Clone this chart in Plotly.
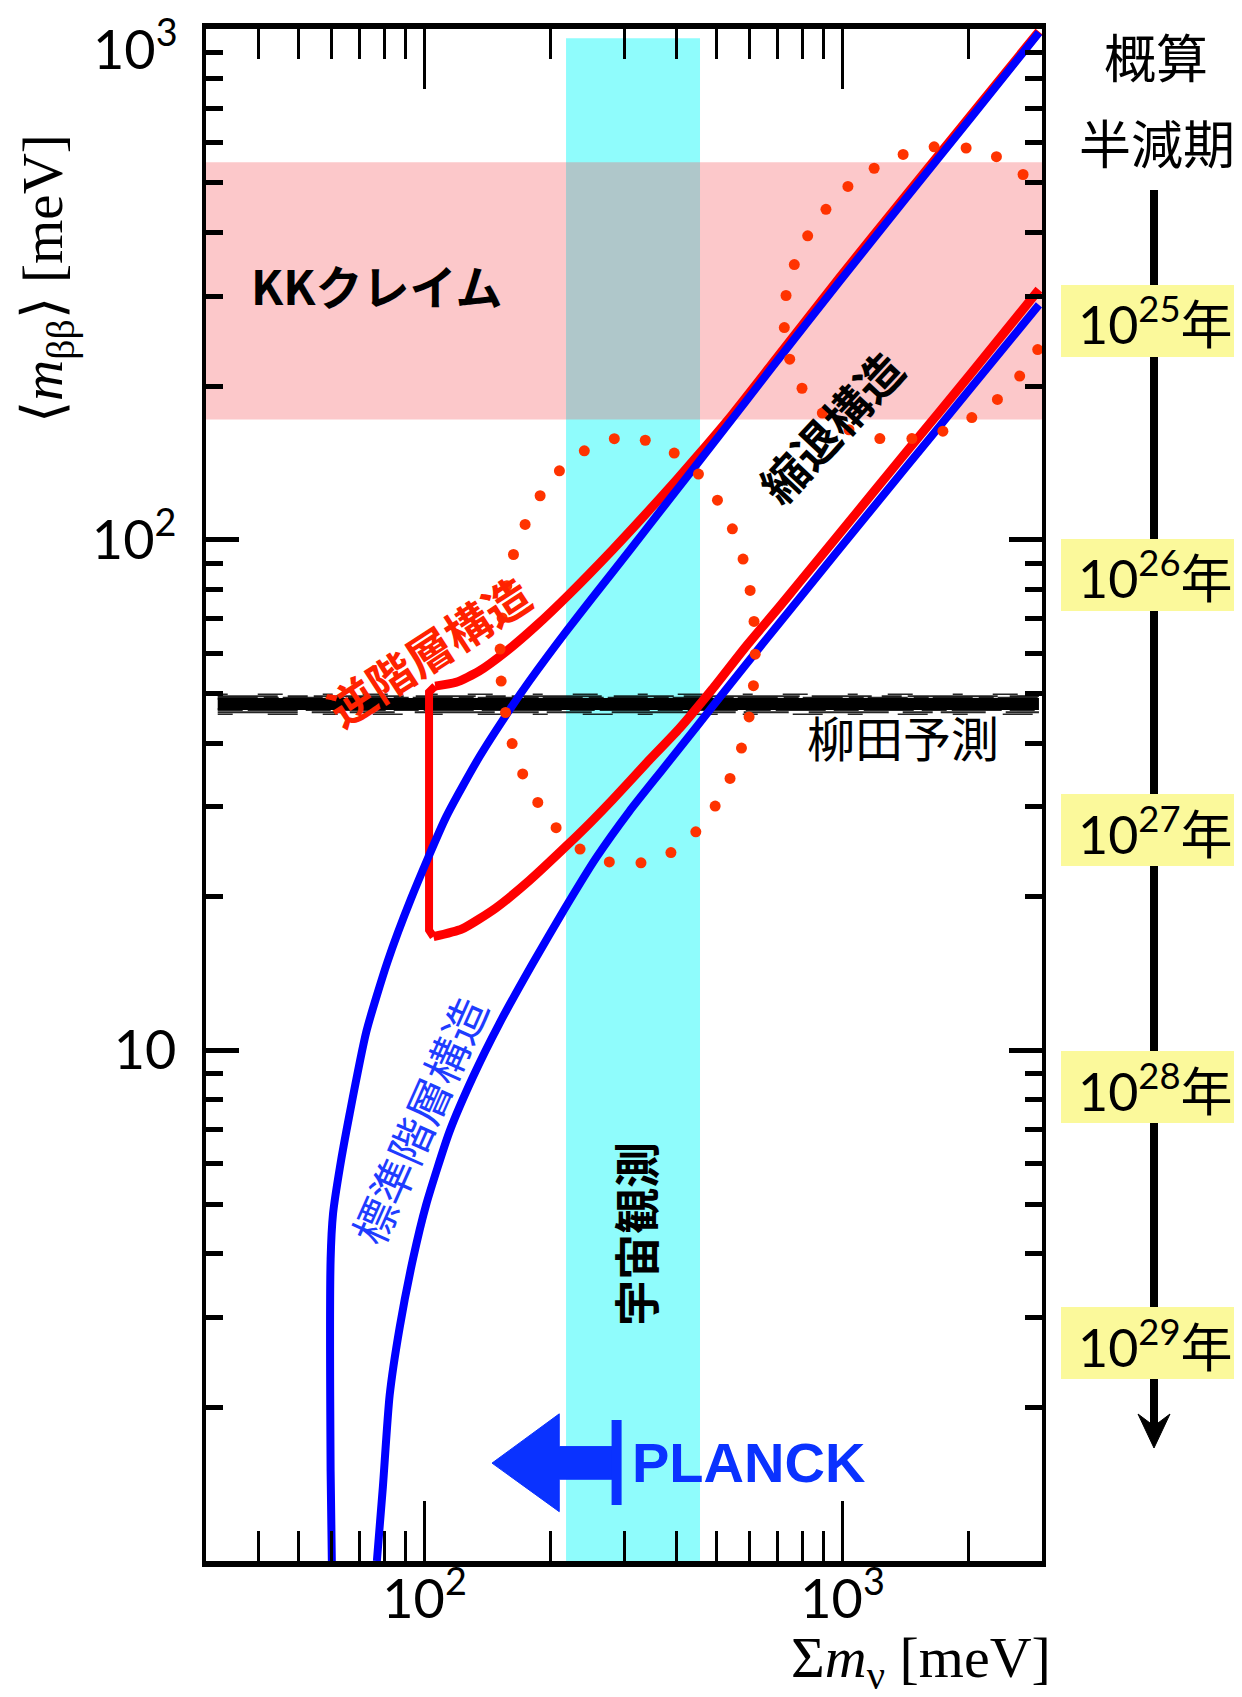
import math
import plotly.graph_objects as go

# ---------------- data (meV) ----------------
# Normal hierarchy region: left/upper boundary and lower boundary
nh_upper_sum = [60.0, 59.6, 59.6, 60.4, 62.7, 66.2, 72.6, 81.5, 93.0, 112.7, 135.3, 159.6,
                178.2, 218, 257, 309, 371, 453, 587, 679, 980, 1415, 2041, 2950]
nh_upper_mbb = [1.0, 1.5, 3.9, 4.79, 5.89, 7.52, 10.9, 14.9, 19.9, 28.7, 37.6, 46.4,
                52.9, 66.1, 78.6, 95.2, 115.4, 142.2, 186.7, 218, 319.5, 465.5, 675.6, 985]

nh_lower_sum = [76.9, 79.5, 82.5, 87.2, 93.8, 100.9, 114.7, 130.5, 151.1, 181.4, 216, 257,
                309, 371, 446, 535, 643, 787, 980, 1415, 2041, 2950]
nh_lower_mbb = [1.0, 1.40, 2.11, 2.87, 3.90, 4.99, 6.93, 8.87, 11.3, 14.8, 18.9, 23.8,
                29.4, 35.5, 42.9, 51.8, 62.5, 76.7, 95.7, 138.4, 199.6, 288.5]

# Inverted hierarchy region: lower branch (right->left), vertical edge, upper branch
ih_lower_sum = [2950, 2041, 1415, 980, 787, 705, 587, 488, 407, 339, 282, 250, 218, 178, 148, 123, 105]
ih_lower_mbb = [309, 213, 148, 102.5, 82.4, 73.8, 61.8, 51.0, 42.7, 36.5, 31.0, 28.0, 25.1, 21.5, 19.0, 17.3, 16.7]
ih_edge_sum = [105, 102.5, 102.5, 106]
ih_edge_mbb = [16.7, 17.2, 50.3, 51.7]
ih_upper_sum = [106, 119, 135, 157, 185, 222, 282, 330, 400, 453, 545, 680, 980, 1415, 2041, 2950]
ih_upper_mbb = [51.7, 52.6, 55.3, 60.5, 67.9, 78.3, 95.7, 109.9, 130.9, 147.1, 176.0, 221.6, 325, 472, 683, 990]

# Dotted contours
dots1_sum = [284.4, 337.3, 395.6, 452.1, 502, 545, 578, 601, 614, 618, 612, 597.6, 573, 538,
             495.7, 445.6, 388.5, 329.4, 276.7, 235.5, 206.4, 186.6, 171.7, 162.0, 156.2, 152.5,
             151.6, 153.3, 157.3, 163.2, 174.0, 189.0, 210.2, 241.1]
dots1_mbb = [157.8, 156.7, 147.9, 134.5, 119.6, 105.1, 91.7, 79.6, 69.2, 59.7, 51.8, 45.0, 39.1, 34.1,
             30.1, 26.8, 24.4, 23.3, 23.4, 24.8, 27.3, 30.6, 34.8, 39.9, 45.9, 52.9,
             61.1, 70.3, 81.3, 93.6, 107.2, 122.0, 136.5, 149.4]
dots2_sum = [747.4, 725.5, 732.4, 766.6, 825.2, 912.6, 1030, 1190, 1396, 1656, 1975, 2334, 2703, 3028,
             3217, 3276, 3253, 3152, 2930, 2653, 2347, 2038, 1738, 1465, 1228, 1036, 894.4, 799.8]
dots2_mbb = [225.9, 260.5, 301.0, 346.0, 394.0, 444.0, 492.3, 534.3, 568.6, 588.5, 585.4, 562.8, 519.4, 465.0,
             408.2, 355.9, 308.7, 268.5, 235.9, 209.3, 188.4, 173.6, 163.2, 157.9, 157.9, 164.3, 177.1, 198.1]

# Bands
kk_claim_mbb = [172, 549]
cosmo_sum = [218, 456]
cosmo_top_mbb = 960
yanagida_mbb = 47.7
yanagida_sum = [32, 2950]

# Planck arrow (decoration)
planck_bar_sum = 288
planck_tip_sum, planck_head_sum, planck_shaft_end = 145, 210, 286
planck_mid, planck_head_lo, planck_head_hi = 1.555, 1.249, 1.942
planck_shaft_lo, planck_shaft_hi = 1.446, 1.675
planck_bar_lo, planck_bar_hi = 1.288, 1.889

# Axis ticks
x_major = [100, 1000]
x_major_text = ["10<sup>2</sup>", "10<sup>3</sup>"]
x_minor = [40, 50, 60, 70, 80, 90, 200, 300, 400, 500, 600, 700, 800, 900, 2000]
y_major = [10, 100, 1000]
y_major_text = ["10", "10<sup>2</sup>", ""]          # top label drawn separately (sits at the edge)
y_top_label = "10<sup>3</sup>"
y_minor = [2, 3, 4, 5, 6, 7, 8, 9, 20, 30, 40, 50, 60, 70, 80, 90, 200, 300, 400, 500, 600, 700, 800, 900]

halflife_exp = [25, 26, 27, 28, 29]

# ---------------- layout geometry (page pixels) ----------------
PAGE_W, PAGE_H = 1242, 1697
BODY = 8                      # default body margin of the html page
W, H = PAGE_W - BODY, PAGE_H - BODY
PL, PR, PT, PB = 206, 1042, 29, 1561


def px(x):
    return (x - PL) / (PR - PL)


def py(y):
    return (PB - y) / (PB - PT)


CJK = "Noto Sans CJK JP"
NUM = "Lato, Noto Sans CJK JP"
RED = "#FF0000"
DOT = "#FF3300"
BLUE = "#0000FF"

fig = go.Figure()

# Yanagida brush band (main stroke plus ragged streaks)
fig.add_trace(go.Scatter(x=yanagida_sum, y=[yanagida_mbb] * 2, mode="lines",
                         line=dict(color="black", width=12), hoverinfo="skip"))
streaks = [(1.036, 2, "60px,10px,20px,6px,90px,12px"), (1.026, 3, "40px,6px,15px,4px"),
           (0.975, 3, "25px,5px,50px,8px"), (0.963, 2, "80px,14px,30px,8px,45px,20px"),
           (1.045, 1.5, "10px,30px,25px,40px"), (0.955, 1.5, "15px,35px,30px,25px")]
for fac, wid, dash in streaks:
    fig.add_trace(go.Scatter(x=yanagida_sum, y=[yanagida_mbb * fac] * 2, mode="lines",
                             line=dict(color="rgba(0,0,0,0.85)", width=wid, dash=dash),
                             hoverinfo="skip"))

# Inverted hierarchy (red)
fig.add_trace(go.Scatter(x=ih_lower_sum, y=ih_lower_mbb, mode="lines",
                         line=dict(color=RED, width=9, shape="spline", smoothing=0.6), hoverinfo="skip"))
fig.add_trace(go.Scatter(x=ih_edge_sum, y=ih_edge_mbb, mode="lines",
                         line=dict(color=RED, width=8), hoverinfo="skip"))
fig.add_trace(go.Scatter(x=ih_upper_sum, y=ih_upper_mbb, mode="lines",
                         line=dict(color=RED, width=9, shape="spline", smoothing=0.6), hoverinfo="skip"))
# Normal hierarchy (blue)
fig.add_trace(go.Scatter(x=nh_upper_sum, y=nh_upper_mbb, mode="lines",
                         line=dict(color=BLUE, width=8, shape="spline", smoothing=0.6), hoverinfo="skip"))
fig.add_trace(go.Scatter(x=nh_lower_sum, y=nh_lower_mbb, mode="lines",
                         line=dict(color=BLUE, width=8, shape="spline", smoothing=0.6), hoverinfo="skip"))

# Dotted contours
fig.add_trace(go.Scatter(x=dots1_sum, y=dots1_mbb, mode="markers",
                         marker=dict(color=DOT, size=11), cliponaxis=False, hoverinfo="skip"))
fig.add_trace(go.Scatter(x=dots2_sum, y=dots2_mbb, mode="markers",
                         marker=dict(color=DOT, size=11), cliponaxis=False, hoverinfo="skip"))

# Planck arrow
PBLUE = "#0A32FF"
fig.add_trace(go.Scatter(
    x=[planck_tip_sum, planck_head_sum, planck_head_sum, planck_shaft_end, planck_shaft_end,
       planck_head_sum, planck_head_sum, planck_tip_sum],
    y=[planck_mid, planck_head_hi, planck_shaft_hi, planck_shaft_hi, planck_shaft_lo,
       planck_shaft_lo, planck_head_lo, planck_mid],
    mode="lines", fill="toself", fillcolor=PBLUE, line=dict(color=PBLUE, width=1), hoverinfo="skip"))
fig.add_trace(go.Scatter(x=[planck_bar_sum, planck_bar_sum], y=[planck_bar_lo, planck_bar_hi],
                         mode="lines", line=dict(color=PBLUE, width=10), hoverinfo="skip"))

shapes = [
    dict(type="rect", xref="paper", yref="y", x0=0, x1=1, y0=kk_claim_mbb[0], y1=kk_claim_mbb[1],
         fillcolor="#FCC8CA", line=dict(width=0), layer="below"),
    dict(type="rect", xref="x", yref="y", x0=cosmo_sum[0], x1=cosmo_sum[1], y0=1, y1=cosmo_top_mbb,
         fillcolor="#8FFCFC", line=dict(width=0), layer="below"),
    dict(type="rect", xref="x", yref="y", x0=cosmo_sum[0], x1=cosmo_sum[1], y0=kk_claim_mbb[0],
         y1=kk_claim_mbb[1], fillcolor="#AFC7CA", line=dict(width=0), layer="below"),
    # right-hand half-life scale
    dict(type="line", xref="paper", yref="paper", x0=px(1154), x1=px(1154), y0=py(190), y1=py(1432),
         line=dict(color="black", width=8)),
    dict(type="path", xref="paper", yref="paper",
         path=f"M {px(1138)} {py(1414)} L {px(1154)} {py(1448)} L {px(1170)} {py(1414)} L {px(1154)} {py(1426)} Z",
         fillcolor="black", line=dict(color="black", width=1)),
]


def label(x, y, text, size, color="black", family=CJK, angle=0, xanchor="center"):
    return dict(xref="paper", yref="paper", x=px(x), y=py(y), text=text, showarrow=False,
                textangle=angle, xanchor=xanchor, yanchor="middle",
                font=dict(family=family, size=size, color=color))


annotations = []
box_centres = [321, 575, 830, 1087, 1343]
for e, cy in zip(halflife_exp, box_centres):
    shapes.append(dict(type="rect", xref="paper", yref="paper", x0=px(1061), x1=px(1250),
                       y0=py(cy + 36), y1=py(cy - 36), fillcolor="#FBF99B", line=dict(width=0)))
    annotations.append(label(1155, cy, f"10<sup>{e}</sup>年", 52, family=NUM))

annotations += [
    label(180, 45, y_top_label, 54, family=NUM, xanchor="right"),
    label(1156, 56, "概算", 52),
    label(1157, 142, "半減期", 52),
    label(249, 284, "<b>KKクレイム</b>", 47, xanchor="left"),
    label(428, 650, "<b>逆階層構造</b>", 46, color="#FF2200", angle=-33),
    label(830, 426, "<b>縮退構造</b>", 46, angle=-47),
    label(418, 1120, "標準階層構造", 44, color="#1E3CFF", angle=-66),
    label(634, 1234, "<b>宇宙観測</b>", 46, angle=-90),
    label(903, 736, "柳田予測", 48),
    label(630, 1462, "<b>PLANCK</b>", 56, color=PBLUE, family="Liberation Sans", xanchor="left"),
    label(921, 1661, "Σ<i>m</i><sub>ν</sub> [meV]", 58, family="Liberation Serif"),
    label(47, 279, "⟨<i>m</i><sub>ββ</sub>⟩ [meV]", 57, family="Liberation Serif", angle=-90),
]

axis_common = dict(type="log", showgrid=False, zeroline=False, showline=True, linecolor="black",
                   mirror="ticks", ticks="inside", tickcolor="black", automargin=False,
                   tickfont=dict(family=NUM, size=54, color="black"))

fig.update_layout(
    width=W, height=H,
    margin=dict(l=PL - BODY, r=PAGE_W - PR, t=PT - BODY, b=PAGE_H - PB, pad=0, autoexpand=False),
    paper_bgcolor="white", plot_bgcolor="white", showlegend=False, hovermode=False,
    shapes=shapes, annotations=annotations,
    xaxis=dict(**axis_common, range=[math.log10(30), math.log10(3000)], tickmode="array",
               tickvals=x_major, ticktext=x_major_text, ticklen=60, tickwidth=3, linewidth=6,
               ticklabelstandoff=-14,
               minor=dict(tickmode="array", tickvals=x_minor, ticks="inside", ticklen=30,
                          tickwidth=3, tickcolor="black", showgrid=False)),
    yaxis=dict(**axis_common, range=[0, 3.0005], tickmode="array", tickvals=y_major, ticktext=y_major_text,
               ticklen=33, tickwidth=5, linewidth=3.5, ticklabelstandoff=15,
               minor=dict(tickmode="array", tickvals=y_minor, ticks="inside", ticklen=17,
                          tickwidth=5, tickcolor="black", showgrid=False)),
)

fig.write_html("out.html")
